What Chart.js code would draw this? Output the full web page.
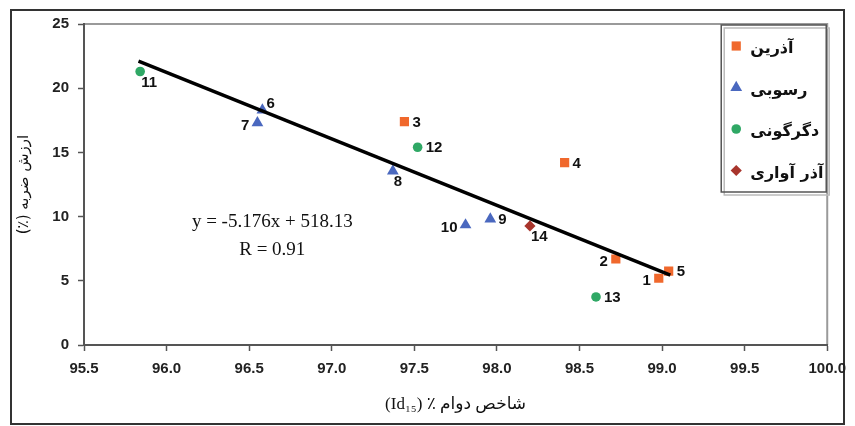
<!DOCTYPE html>
<html>
<head>
<meta charset="utf-8">
<script src="https://cdn.jsdelivr.net/npm/chart.js@4/dist/chart.umd.min.js"></script>
<style>
  body { margin: 0; background: #fff; }
  #wrap { position: relative; width: 855px; height: 426px; }
</style>
</head>
<body>
<div id="wrap"><canvas id="myChart" width="855" height="426"></canvas></div>
<script>
// Samples
const sampleIds = [1, 2, 3, 4, 5, 6, 7, 8, 9, 10, 11, 12, 13, 14];
const durability = [98.98, 98.72, 97.44, 98.41, 99.04, 96.58, 96.55, 97.37, 97.96, 97.81, 95.84, 97.52, 98.60, 98.20];
const impactValue = [5.2, 6.7, 17.4, 14.2, 5.76, 18.3, 17.3, 13.55, 9.8, 9.35, 21.3, 15.4, 3.74, 9.27];
const rockGroup = [0, 0, 0, 0, 0, 1, 1, 1, 1, 1, 2, 2, 2, 3];
const groupNames = ["آذرين", "رسوبی", "دگرگونی", "آذر آواری"];

// trend line end points as drawn
const trendX = [95.83, 99.05];
const trendY = [22.1, 5.45];
const equationText = "y = -5.176x + 518.13";
const rText = "R = 0.91";

const xTicks = [95.5, 96.0, 96.5, 97.0, 97.5, 98.0, 98.5, 99.0, 99.5, 100.0];
const yTicks = [0, 5, 10, 15, 20, 25];

// where each number label sits next to its marker
const labelSide = ['l', 'l', 'r', 'r', 'r', 'tr', 'l', 'br', 'r', 'l', 'br', 'r', 'r', 'br'];

const groupStyle = [
    { color: '#f0682c', shape: 'rect', radius: 6.5 },
    { color: '#4a68bf', shape: 'triangle', radius: 6.8 },
    { color: '#2fa865', shape: 'circle', radius: 4.8 },
    { color: '#a8352c', shape: 'rectRot', radius: 5.6 }
];

const datasets = [{
    type: 'line',
    label: 'trend',
    data: trendX.map((x, i) => ({ x: x, y: trendY[i] })),
    borderColor: '#000',
    borderWidth: 3.5,
    pointRadius: 0,
    showLine: true,
    order: 0
}];

groupNames.forEach((name, g) => {
    const pts = [];
    sampleIds.forEach((id, i) => {
        if (rockGroup[i] === g) pts.push({ x: durability[i], y: impactValue[i], id: id, side: labelSide[i] });
    });
    datasets.push({
        type: 'scatter',
        label: name,
        data: pts,
        backgroundColor: groupStyle[g].color,
        borderColor: groupStyle[g].color,
        borderWidth: 0,
        pointStyle: groupStyle[g].shape,
        pointRadius: groupStyle[g].radius,
        order: 1
    });
});

function drawMarker(ctx, shape, x, y, r, color) {
    ctx.save();
    ctx.fillStyle = color;
    ctx.beginPath();
    if (shape === 'rect') {
        const s = r * Math.SQRT1_2;
        ctx.rect(x - s, y - s, 2 * s, 2 * s);
    } else if (shape === 'triangle') {
        ctx.moveTo(x, y - r);
        ctx.lineTo(x + r * 0.866, y + r * 0.5);
        ctx.lineTo(x - r * 0.866, y + r * 0.5);
        ctx.closePath();
    } else if (shape === 'rectRot') {
        ctx.moveTo(x, y - r);
        ctx.lineTo(x + r, y);
        ctx.lineTo(x, y + r);
        ctx.lineTo(x - r, y);
        ctx.closePath();
    } else {
        ctx.arc(x, y, r, 0, Math.PI * 2);
    }
    ctx.fill();
    ctx.restore();
}

const extrasPlugin = {
    id: 'extras',
    beforeDraw(chart) {
        const ctx = chart.ctx;
        ctx.save();
        ctx.fillStyle = '#fff';
        ctx.fillRect(0, 0, chart.width, chart.height);
        // outer frame
        ctx.strokeStyle = '#333';
        ctx.lineWidth = 2;
        ctx.strokeRect(11, 10, chart.width - 22, chart.height - 12);
        // plot area top/right border
        const a = chart.chartArea;
        ctx.strokeStyle = '#9a9a9a';
        ctx.lineWidth = 2;
        ctx.beginPath();
        ctx.moveTo(a.left, a.top);
        ctx.lineTo(a.right, a.top);
        ctx.lineTo(a.right, a.bottom);
        ctx.stroke();
        ctx.restore();
    },
    afterDatasetsDraw(chart) {
        const ctx = chart.ctx;
        const xs = chart.scales.x, ys = chart.scales.y;
        ctx.save();
        // sample number labels
        ctx.fillStyle = '#111';
        ctx.font = 'bold 15px "Liberation Sans", Arial, sans-serif';
        ctx.textBaseline = 'middle';
        chart.data.datasets.forEach((ds, di) => {
            if (ds.type !== 'scatter') return;
            chart.getDatasetMeta(di).data.forEach((el, k) => {
                const p = ds.data[k];
                let dx = 0, dy = 0;
                if (p.side === 'r') { ctx.textAlign = 'left'; dx = 8; dy = 1; }
                else if (p.side === 'l') { ctx.textAlign = 'right'; dx = -8; dy = 3; }
                else if (p.side === 'tr') { ctx.textAlign = 'left'; dx = 4; dy = -6; }
                else { ctx.textAlign = 'left'; dx = 1; dy = 11; }
                ctx.fillText(String(p.id), el.x + dx, el.y + dy);
            });
        });
        // regression equation
        ctx.fillStyle = '#111';
        ctx.font = '19px "Liberation Serif", "Times New Roman", serif';
        ctx.textAlign = 'center';
        ctx.fillText(equationText, xs.getPixelForValue(96.64), ys.getPixelForValue(9.6));
        ctx.fillText(rText, xs.getPixelForValue(96.64), ys.getPixelForValue(7.4));

        // legend box
        const a = chart.chartArea;
        const lx = a.right - 106, ly = a.top + 1, lw = 105, lh = 167;
        ctx.fillStyle = '#fff';
        ctx.fillRect(lx, ly, lw, lh);
        ctx.strokeStyle = '#bbb';
        ctx.lineWidth = 1.5;
        ctx.strokeRect(lx + 3, ly + 3, lw, lh);
        ctx.strokeStyle = '#555';
        ctx.strokeRect(lx, ly, lw, lh);
        ctx.font = 'bold 16px "DejaVu Sans", sans-serif';
        ctx.direction = 'rtl';
        ctx.textAlign = 'left';
        groupNames.forEach((name, g) => {
            const y = ly + 24 + g * 41.5;
            const st = groupStyle[g];
            drawMarker(ctx, st.shape, lx + 15, y - 3, st.radius, st.color);
            ctx.fillStyle = '#111';
            ctx.fillText(name, lx + 29, y);
        });
        ctx.restore();
    }
};

new Chart(document.getElementById('myChart'), {
    type: 'scatter',
    data: { datasets: datasets },
    options: {
        responsive: false,
        animation: false,
        layout: { padding: { top: 24, right: 27, left: 0, bottom: 0 } },
        plugins: { legend: { display: false }, tooltip: { enabled: false } },
        scales: {
            x: {
                type: 'linear',
                min: xTicks[0],
                max: xTicks[xTicks.length - 1],
                afterBuildTicks: (s) => { s.ticks = xTicks.map(v => ({ value: v })); },
                afterFit: (s) => { s.height = 81; },
                grid: { drawOnChartArea: false, color: '#555', tickLength: 6, tickWidth: 1.5 },
                border: { color: '#555', width: 2 },
                ticks: {
                    padding: 9,
                    color: '#222',
                    font: { family: '"Liberation Sans", Arial, sans-serif', size: 15, weight: 'bold' },
                    callback: (v) => Number(v).toFixed(1)
                },
                title: {
                    display: true,
                    text: '(Id₁₅) ٪ شاخص دوام',
                    color: '#111',
                    font: { family: '"Liberation Serif", "DejaVu Sans", serif', size: 17 },
                    padding: { top: 0, bottom: 11 }
                }
            },
            y: {
                min: yTicks[0],
                max: yTicks[yTicks.length - 1],
                afterBuildTicks: (s) => { s.ticks = yTicks.map(v => ({ value: v })); },
                afterFit: (s) => { s.width = 84; },
                grid: { drawOnChartArea: false, color: '#555', tickLength: 6, tickWidth: 1.5 },
                border: { color: '#555', width: 2 },
                ticks: {
                    padding: 9,
                    color: '#222',
                    font: { family: '"Liberation Sans", Arial, sans-serif', size: 15, weight: 'bold' }
                },
                title: {
                    display: true,
                    text: '(٪) ارزش ضربه',
                    color: '#111',
                    font: { family: '"DejaVu Sans", sans-serif', size: 15 },
                    padding: { top: 15, bottom: 0 }
                }
            }
        }
    },
    plugins: [extrasPlugin]
});
</script>
</body>
</html>
